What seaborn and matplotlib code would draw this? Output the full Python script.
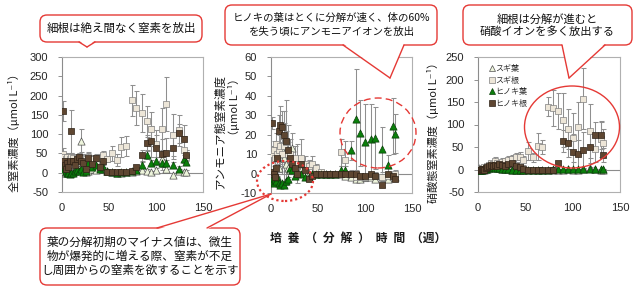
import numpy as np
import pandas as pd
import matplotlib
matplotlib.use('Agg')
import matplotlib.pyplot as plt
import seaborn as sns
from matplotlib.patches import FancyBboxPatch, Polygon, Ellipse
from matplotlib.lines import Line2D

# ---------------- data ----------------
weeks = [1, 2, 3, 4, 5, 6, 8, 10, 12, 14, 16, 18, 20, 22, 25, 28, 32, 36, 40, 44, 48,
         53, 58, 63, 68, 74, 79, 85, 90, 95, 100, 106, 111, 118, 124, 130, 132]
series_names = ['スギ葉', 'スギ根', 'ヒノキ葉', 'ヒノキ根']

# panel 1: total nitrogen
tn_sugi_leaf = [10, 5, 0, 2, 5, 0, 3, 5, 2, 5, 8, 10, 83, 5, 3, 5, 10, 8, 12, 10, 5,
                2, 0, 0, 2, 3, 5, 8, 5, 2, 8, 35, 10, -5, 5, 3, 3]
tn_sugi_leaf_err = [5, 5, 3, 3, 5, 3, 3, 5, 3, 5, 5, 5, 30, 5, 3, 5, 5, 5, 5, 5, 3,
                    2, 2, 2, 2, 3, 3, 5, 5, 3, 5, 20, 8, 5, 5, 3, 3]
tn_sugi_root = [48, 40, 30, 35, 40, 30, 35, 40, 38, 30, 35, 40, 30, 38, 35, 42, 35, 30, 38, 45, 35,
                50, 33, 67, 69, 188, 168, 155, 133, 113, 75, 113, 178, 98, 110, 60, 40]
tn_sugi_root_err = [15, 10, 8, 10, 10, 8, 10, 12, 10, 8, 10, 10, 8, 10, 10, 12, 10, 8, 10, 10, 8,
                    20, 15, 25, 25, 40, 45, 50, 40, 45, 35, 55, 70, 55, 40, 35, 20]
tn_hinoki_leaf = [20, 10, 15, 5, 0, -2, -3, 0, 0, 5, 8, 5, 10, 3, 5, 25, 15, 20, 10, 15, 5,
                  2, 0, 2, 3, 5, 8, 20, 45, 25, 30, 25, 25, 20, 10, 35, 28]
tn_hinoki_leaf_err = [8, 5, 5, 5, 3, 3, 3, 3, 3, 3, 3, 3, 5, 3, 3, 8, 5, 5, 5, 5, 3,
                      2, 2, 2, 2, 3, 3, 8, 10, 8, 10, 10, 8, 8, 8, 10, 8]
tn_hinoki_root = [160, 30, 20, 10, 25, 15, 30, 107, 30, 20, 35, 40, 30, 25, 10, 38, 22, 38, 15, 30, 3,
                  2, 2, 2, 3, 5, 15, 45, 78, 82, 63, 48, 50, 65, 102, 88, 45]
tn_hinoki_root_err = [25, 10, 8, 5, 10, 8, 10, 55, 10, 8, 10, 12, 10, 8, 5, 12, 8, 10, 5, 8, 2,
                      2, 2, 2, 2, 3, 5, 15, 20, 40, 35, 40, 40, 30, 25, 35, 15]

# panel 2: ammonium nitrogen
nh_sugi_leaf = [-2, 0, 2, 0, -3, -1, 3, 10, 12, 8, 5, 3, 2, 13, 2, 3, 2, 1, 0, 0, 0,
                0, 0, 0, 0, 0, -1, -2, -3, -3, -2, -2, -3, -2, -3, -1, -2]
nh_sugi_leaf_err = [1, 1, 2, 1, 2, 1, 2, 5, 6, 4, 3, 2, 2, 8, 2, 2, 1, 1, 1, 1, 1,
                    1, 1, 1, 1, 1, 1, 1, 1, 1, 1, 1, 1, 1, 1, 1, 1]
nh_sugi_root = [0, 10, 12, 8, 15, 10, 12, 14, 10, 14, 16, 10, 10, 3, 8, 5, 8, 5, 4, 5, 3,
                1, 0, 0, 0, 11, 7, 0, -2, -2, -2, -1, -1, -2, -1, -2, 0]
nh_sugi_root_err = [2, 4, 5, 4, 6, 5, 8, 10, 10, 18, 22, 15, 8, 3, 6, 10, 10, 4, 3, 4, 2,
                    1, 1, 1, 1, 7, 10, 2, 2, 2, 2, 2, 2, 2, 2, 2, 2]
nh_hinoki_leaf = [-3, -4, -5, -3, -4, -2, -5, -6, -5, -6, -4, -3, 3, 2, -1, 1, 0, -2, -2, 0, 0,
                  0, 0, 0, 0, 2, 2, 12, 28, 21, 16, 18, 18.5, 12.5, 4.5, 24.5, 20.5]
nh_hinoki_leaf_err = [1, 1, 1, 1, 1, 1, 1, 1, 1, 1, 1, 1, 2, 2, 1, 1, 1, 1, 1, 1, 1,
                      1, 1, 1, 1, 2, 2, 5, 26, 17, 20, 18, 16, 11.5, 5, 14.5, 10]
nh_hinoki_root = [26, 1, 0, -2, 3, 8, 22, 25, 24, 20, 17, 12, 8, 5, 3, 0, 5, 2, -3, -1, 0,
                  0, 0, 0, 0, 0, 0, 0, 0, -1, -1, 0, -1, -6, 0, -1, -3]
nh_hinoki_root_err = [3, 1, 1, 1, 2, 3, 8, 10, 8, 6, 5, 4, 3, 2, 2, 1, 2, 1, 1, 1, 1,
                      1, 1, 1, 1, 1, 1, 1, 1, 1, 1, 1, 1, 1, 1, 1, 1]

# panel 3: nitrate nitrogen
no_sugi_leaf = [3, 0, 1, 0, 2, 0, 1, 2, 3, 5, 6, 5, 4, 3, 2, 2, 1, 0, 0, 0, 0,
                0, 0, 0, 0, 0, 0, 0, 0, 1, 0, 0, 2, 3, 1, 0, 0]
no_sugi_leaf_err = [2, 1, 1, 1, 2, 1, 1, 2, 2, 3, 3, 3, 2, 2, 2, 2, 1, 1, 1, 1, 1,
                    1, 1, 1, 1, 1, 1, 1, 1, 1, 1, 1, 2, 2, 1, 1, 1]
no_sugi_root = [0, 2, 1, 3, 2, 5, 5, 8, 10, 14, 12, 20, 15, 12, 17, 18, 22, 24, 27, 28, 21,
                41, 27, 52, 50, 140, 137, 131, 111, 90, 71, 95, 157, 85, 46, 68, 60]
no_sugi_root_err = [2, 2, 2, 3, 2, 3, 3, 4, 5, 6, 5, 8, 6, 5, 8, 8, 8, 8, 10, 12, 10,
                    20, 10, 30, 15, 22, 40, 40, 60, 45, 55, 55, 68, 60, 30, 40, 30]
no_hinoki_leaf = [0, 0, -1, 0, 1, 2, 2, 3, 4, 5, 5, 4, 3, 3, 2, 1, 1, 0, 0, 0, 0,
                  0, 0, 0, 0, 0, 1, 1, 1, 1, 1, 1, 1, 1, 1, 1, 1]
no_hinoki_leaf_err = [1, 1, 1, 1, 1, 1, 1, 1, 2, 2, 2, 2, 1, 1, 1, 1, 1, 1, 1, 1, 1,
                      1, 1, 1, 1, 1, 1, 1, 1, 1, 1, 1, 1, 1, 1, 1, 1]
no_hinoki_root = [0, -2, 0, 1, 2, 0, 3, 5, 8, 10, 8, 10, 8, 12, 10, 8, 12, 15, 8, 5, 2,
                  0, 0, 0, 0, 0, 0, 14, 63, 58, 40, 35, 43, 50, 76, 76, 32]
no_hinoki_root_err = [1, 1, 1, 1, 1, 1, 2, 2, 3, 3, 3, 4, 3, 4, 4, 3, 4, 5, 3, 2, 1,
                      1, 1, 1, 1, 1, 1, 5, 25, 30, 40, 30, 40, 35, 30, 30, 15]

x_ticks = [0, 50, 100, 150]
y_ticks_total = [-50, 0, 50, 100, 150, 200, 250, 300]
y_ticks_nh = [-10, 0, 10, 20, 30, 40, 50, 60]
y_ticks_no = [-50, 0, 50, 100, 150, 200, 250]

# ---------------- style ----------------
sns.set_style('white')
JP = ['Noto Sans CJK JP', 'DejaVu Sans']
plt.rcParams['font.family'] = JP
plt.rcParams['axes.unicode_minus'] = False

W, H = 640, 288
fig = plt.figure(figsize=(6.4, 2.88), dpi=100)

RED = '#e53935'
styles = {
    'スギ葉': dict(marker='^', fc='#eef5dc', ec='#505050', s=27),
    'スギ根': dict(marker='s', fc='#ede6d8', ec='#808080', s=23),
    'ヒノキ葉': dict(marker='^', fc='#0b800b', ec='#0a3d0a', s=27),
    'ヒノキ根': dict(marker='s', fc='#5e4631', ec='#2e2216', s=23),
}


def make_df(vals, errs):
    frames = []
    for name, v, e in zip(series_names, vals, errs):
        frames.append(pd.DataFrame({'week': weeks, 'value': v, 'err': e, 'series': name}))
    return pd.concat(frames, ignore_index=True)


panels = [
    dict(rect=(62, 57, 203, 192), ylim=(-50, 300), yticks=y_ticks_total,
         df=make_df([tn_sugi_leaf, tn_sugi_root, tn_hinoki_leaf, tn_hinoki_root],
                    [tn_sugi_leaf_err, tn_sugi_root_err, tn_hinoki_leaf_err, tn_hinoki_root_err])),
    dict(rect=(271, 57, 412, 193), ylim=(-10, 60), yticks=y_ticks_nh,
         df=make_df([nh_sugi_leaf, nh_sugi_root, nh_hinoki_leaf, nh_hinoki_root],
                    [nh_sugi_leaf_err, nh_sugi_root_err, nh_hinoki_leaf_err, nh_hinoki_root_err])),
    dict(rect=(478, 57, 620, 192), ylim=(-50, 250), yticks=y_ticks_no,
         df=make_df([no_sugi_leaf, no_sugi_root, no_hinoki_leaf, no_hinoki_root],
                    [no_sugi_leaf_err, no_sugi_root_err, no_hinoki_leaf_err, no_hinoki_root_err])),
]

axes = []
for p in panels:
    x0, y0, x1, y1 = p['rect']
    ax = fig.add_axes([x0 / W, 1 - y1 / H, (x1 - x0) / W, (y1 - y0) / H])
    axes.append(ax)
    ax.axhline(0, color='#8c8c8c', lw=0.8, zorder=1)
    df = p['df']
    for name in series_names:
        d = df[df['series'] == name]
        st = styles[name]
        ax.errorbar(d['week'], d['value'], yerr=d['err'], fmt='none', ecolor='#8f8f8f',
                    elinewidth=0.75, capsize=1.8, capthick=0.75, zorder=2)
        sns.scatterplot(data=d, x='week', y='value', marker=st['marker'], color=st['fc'],
                        edgecolor=st['ec'], linewidth=0.5, s=st['s'], ax=ax, zorder=3,
                        legend=False)
    ax.set_xlim(0, 150)
    ax.set_ylim(*p['ylim'])
    ax.set_xticks(x_ticks)
    ax.set_yticks(p['yticks'])
    ax.set_xlabel('')
    ax.set_ylabel('')
    ax.tick_params(axis='y', direction='out', length=3, width=0.6, color='#808080',
                   pad=7, labelsize=8, labelcolor='#262626', left=True)
    ax.tick_params(axis='x', length=0, pad=8, labelsize=8, labelcolor='#262626')
    for lbl in ax.get_xticklabels() + ax.get_yticklabels():
        lbl.set_fontfamily(['Liberation Sans', 'DejaVu Sans'])
    for sp in ax.spines.values():
        sp.set_visible(True)
        sp.set_color('#b0b0b0')
        sp.set_linewidth(0.8)
    ax.spines['left'].set_color('#8c8c8c')

# legend in third panel
handles = [Line2D([], [], ls='none', marker=styles[n]['marker'], markerfacecolor=styles[n]['fc'],
                  markeredgecolor=styles[n]['ec'], markeredgewidth=0.5, markersize=4.5)
           for n in series_names]
leg = axes[2].legend(handles, series_names, loc='upper left', bbox_to_anchor=(0.06, 0.97),
                     frameon=False, fontsize=5.8, handlelength=0.6, handletextpad=0.1,
                     labelspacing=0.3, borderaxespad=0)

# axis titles
def px(x, y):
    return x / W, 1 - y / H

fig.text(*px(14, 130), '全窒素濃度（μmol L⁻¹）', rotation=90, ha='center', va='center',
         fontsize=8, color='#1a1a1a')
fig.text(*px(220, 132), 'アンモニア態窒素濃度', rotation=90, ha='center', va='center',
         fontsize=8.3, color='#1a1a1a')
fig.text(*px(234, 73), '（μmol L⁻¹）', rotation=90, ha='center', va='top',
         fontsize=8, color='#1a1a1a')
fig.text(*px(433, 130), '硝酸態窒素濃度（μmol L⁻¹）', rotation=90, ha='center', va='center',
         fontsize=8, color='#1a1a1a')
fig.text(*px(270, 238), '培\u2002養\u2002（\u2002分\u2002解\u2002）\u2002時\u2002間\u2002（週）',
         ha='left', va='center', fontsize=8.5, fontweight='bold', color='#1a1a1a')


# callouts (pixel coords -> inches)
def inch(x, y):
    return x / 100, (H - y) / 100


def callout(x0, y0, x1, y1, base1, base2, tip, text, fs, ls=1.2):
    box = FancyBboxPatch(inch(x0, y1), (x1 - x0) / 100, (y1 - y0) / 100,
                         boxstyle='round,pad=0,rounding_size=0.07',
                         transform=fig.dpi_scale_trans, fc='white', ec=RED, lw=1.0, zorder=5)
    fig.add_artist(box)
    inward = -1.5 if tip[1] > y1 else 1.5
    b1 = (base1[0], base1[1] + inward)
    b2 = (base2[0], base2[1] + inward)
    poly = Polygon([inch(*b1), inch(*b2), inch(*tip)], closed=True, transform=fig.dpi_scale_trans,
                   fc='white', ec='none', zorder=6)
    fig.add_artist(poly)
    for b in (base1, base2):
        fig.add_artist(Line2D([inch(*b)[0], inch(*tip)[0]], [inch(*b)[1], inch(*tip)[1]],
                              transform=fig.dpi_scale_trans, color=RED, lw=1.0, zorder=7))
    fig.text(*px((x0 + x1) / 2, (y0 + y1) / 2), text, ha='center', va='center', fontsize=fs,
             linespacing=ls, color='#111111', zorder=8)


callout(40, 15, 202, 42, (79, 42), (95, 42), (87, 47), '細根は絶え間なく窒素を放出', 8.3)
callout(225, 5, 437, 45, (343, 45), (404, 45), (390, 78),
        'ヒノキの葉はとくに分解が速く、体の60%\nを失う頃にアンモニアイオンを放出', 7.5, 1.45)
callout(463, 5, 632, 45, (562, 45), (605, 45), (569, 78),
        '細根は分解が進むと\n硝酸イオンを多く放出する', 8.1, 1.15)
callout(40, 228, 240, 285, (157, 228), (207, 228), (271, 194),
        '葉の分解初期のマイナス値は、微生\n物が爆発的に増える際、窒素が不足\nし周囲からの窒素を欲することを示す',
        8.4, 1.1)


def ellipse(cx, cy, w, h, ls, lw=1.0):
    e = Ellipse(inch(cx, cy), w / 100, h / 100, transform=fig.dpi_scale_trans, fill=False,
                ec=RED, lw=lw, ls=ls, zorder=4)
    fig.add_artist(e)


ellipse(378, 133, 76, 70, (0, (5, 3)))
ellipse(285, 181, 56, 40, (0, (1, 1.3)), lw=1.6)
ellipse(572, 127, 95, 82, '-')

fig.savefig('out.png', dpi=100, facecolor='white')
